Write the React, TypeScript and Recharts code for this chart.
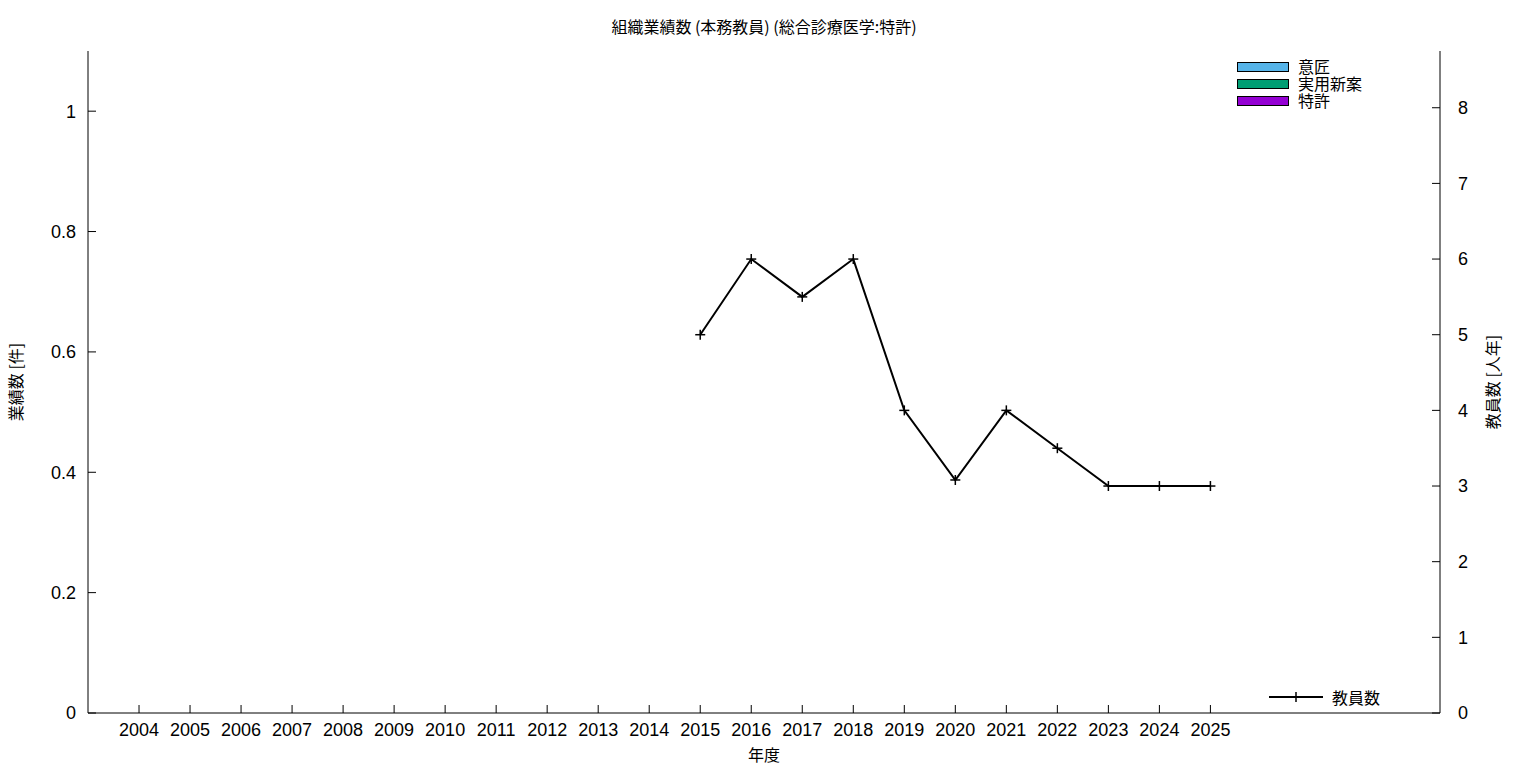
import { ComposedChart, Bar, Line, XAxis, YAxis } from 'recharts';

const years = ['2004', '2005', '2006', '2007', '2008', '2009', '2010', '2011', '2012', '2013', '2014', '2015', '2016', '2017', '2018', '2019', '2020', '2021', '2022', '2023', '2024', '2025'];
const design = [0, 0, 0, 0, 0, 0, 0, 0, 0, 0, 0, 0, 0, 0, 0, 0, 0, 0, 0, 0, 0, 0];
const utility = [0, 0, 0, 0, 0, 0, 0, 0, 0, 0, 0, 0, 0, 0, 0, 0, 0, 0, 0, 0, 0, 0];
const patent = [0, 0, 0, 0, 0, 0, 0, 0, 0, 0, 0, 0, 0, 0, 0, 0, 0, 0, 0, 0, 0, 0];
const staff = [null, null, null, null, null, null, null, null, null, null, null, 5, 6, 5.5, 6, 4, 3.08, 4, 3.5, 3, 3, 3];

const leftTicks = [0, 0.2, 0.4, 0.6, 0.8, 1];
const rightTicks = [0, 1, 2, 3, 4, 5, 6, 7, 8];

const barSeries = [
  { key: 'design', name: '意匠', color: '#56b4e9' },
  { key: 'utility', name: '実用新案', color: '#009e73' },
  { key: 'patent', name: '特許', color: '#9400d3' },
];

const data = years.map((y, i) => ({
  idx: i,
  year: y,
  design: design[i],
  utility: utility[i],
  patent: patent[i],
  staff: staff[i],
}));

const FONT = '"Noto Sans CJK JP", "Noto Sans", sans-serif';
const NUM_FONT = '"Liberation Sans", Arial, sans-serif';
const tickStyle = { fill: '#000', fontSize: 18, fontFamily: NUM_FONT };

const PlusDot = (props: any) => {
  const { cx, cy } = props;
  if (cx == null || cy == null) return null;
  return (
    <g stroke="#000" strokeWidth={1.5}>
      <line x1={cx - 5} y1={cy} x2={cx + 5} y2={cy} />
      <line x1={cx} y1={cy - 5} x2={cx} y2={cy + 5} />
    </g>
  );
};

const App = () => {
  return (
    <div style={{ position: 'absolute', left: 0, top: 0, width: 1536, height: 768, fontFamily: FONT, color: '#000' }}>
      <ComposedChart width={1536} height={768} data={data} margin={{ top: 51, right: 0, left: 0, bottom: 0 }}>
        <XAxis
          xAxisId="bottom"
          dataKey="idx"
          type="number"
          domain={[-1, 25.5]}
          ticks={years.map((_, i) => i)}
          tickFormatter={(v) => years[v] ?? ''}
          height={55}
          tickSize={-8}
          tickMargin={18}
          tick={tickStyle}
          axisLine={{ stroke: '#000' }}
          tickLine={{ stroke: '#000' }}
          interval={0}
        />
        <XAxis
          xAxisId="top"
          orientation="top"
          dataKey="idx"
          type="number"
          domain={[-1, 25.5]}
          ticks={years.map((_, i) => i)}
          tickFormatter={() => ''}
          height={0}
          tickSize={-8}
          axisLine={{ stroke: '#000' }}
          tickLine={{ stroke: '#000' }}
          interval={0}
        />
        <YAxis
          yAxisId="left"
          width={88}
          domain={[0, 1.1]}
          ticks={leftTicks}
          tickFormatter={(v) => String(v)}
          tickSize={-8}
          tickMargin={20}
          tick={tickStyle}
          axisLine={{ stroke: '#000' }}
          tickLine={{ stroke: '#000' }}
          interval={0}
        />
        <YAxis
          yAxisId="right"
          orientation="right"
          width={96}
          domain={[0, 8.75]}
          ticks={rightTicks}
          tickSize={-8}
          tickMargin={26}
          tick={tickStyle}
          axisLine={{ stroke: '#000' }}
          tickLine={{ stroke: '#000' }}
          interval={0}
        />
        {barSeries.map((s) => (
          <Bar
            key={s.key}
            dataKey={s.key}
            name={s.name}
            xAxisId="bottom"
            yAxisId="left"
            stackId="a"
            fill={s.color}
            stroke="#000"
            isAnimationActive={false}
          />
        ))}
        <Line
          dataKey="staff"
          name="教員数"
          xAxisId="bottom"
          yAxisId="right"
          stroke="#000"
          strokeWidth={2}
          dot={<PlusDot />}
          activeDot={false}
          isAnimationActive={false}
          connectNulls={false}
        />
      </ComposedChart>

      <div style={{ position: 'absolute', left: 0, top: 14, width: 1528, textAlign: 'center', fontSize: 16 }}>
        組織業績数 (本務教員) (総合診療医学:特許)
      </div>
      <div style={{ position: 'absolute', left: 0, top: 742, width: 1528, textAlign: 'center', fontSize: 16 }}>
        年度
      </div>
      <div style={{ position: 'absolute', left: 15, top: 382, transform: 'translate(-50%, -50%) rotate(-90deg)', whiteSpace: 'nowrap', fontSize: 16 }}>
        業績数 [件]
      </div>
      <div style={{ position: 'absolute', left: 1492, top: 382, transform: 'translate(-50%, -50%) rotate(-90deg)', whiteSpace: 'nowrap', fontSize: 16 }}>
        教員数 [人年]
      </div>

      {barSeries.map((s, i) => (
        <div key={s.key} style={{ position: 'absolute', left: 1237, top: 58 + i * 17, height: 17, display: 'flex', alignItems: 'center', fontSize: 16, lineHeight: '17px' }}>
          <div style={{ width: 50, height: 8, background: s.color, border: '1px solid #000' }} />
          <span style={{ marginLeft: 9 }}>{s.name}</span>
        </div>
      ))}

      <div style={{ position: 'absolute', left: 1269, top: 688, height: 18, display: 'flex', alignItems: 'center', fontSize: 16 }}>
        <svg width={54} height={12}>
          <line x1={0} y1={6} x2={54} y2={6} stroke="#000" strokeWidth={2} />
          <line x1={27} y1={1} x2={27} y2={11} stroke="#000" strokeWidth={1.5} />
        </svg>
        <span style={{ marginLeft: 9 }}>教員数</span>
      </div>
    </div>
  );
};

export default App;
